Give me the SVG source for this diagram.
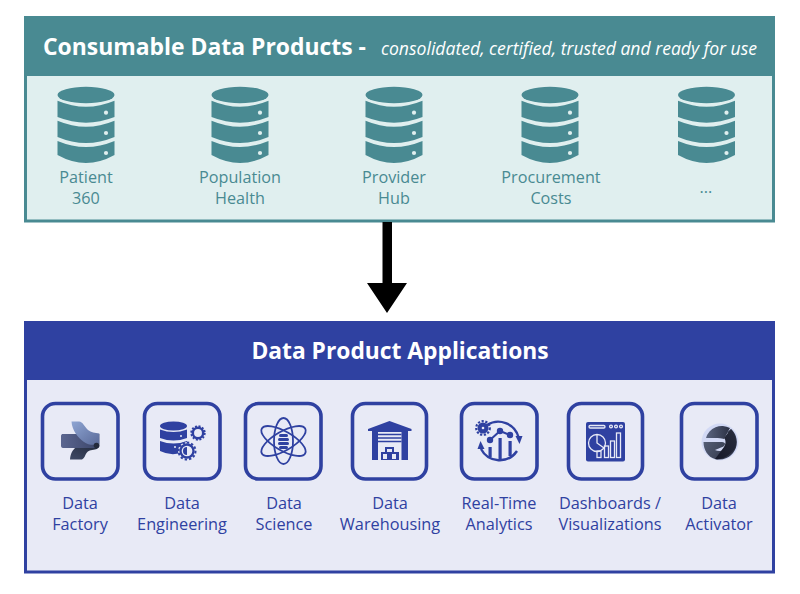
<svg xmlns="http://www.w3.org/2000/svg" width="800" height="594" viewBox="0 0 800 594">
<style>
text{font-family:"Open Sans","Noto Sans","Liberation Sans",sans-serif}
.t{fill:#498a92;font-size:16.200px;text-anchor:middle}
.b{fill:#2f41a1;font-size:16.300px;text-anchor:middle}
.box{fill:none;stroke:#2f41a1;stroke-width:3.6}
.f{fill:#2f41a1}
.s{fill:none;stroke:#2f41a1;stroke-width:1.800}
.w{fill:#e8eaf6}
.wl{fill:none;stroke:#e8eaf6;stroke-width:1.300}
</style>
<defs>
<g id="db">
<ellipse cx="0" cy="8" rx="28.500" ry="8.200" fill="#498a92"/>
<path d="M-28.500 13.700Q-14 19.700 0 19.700T28.500 13.700V30Q14 35.700 0 35.700T-28.500 30Z" fill="#498a92"/>
<path d="M-28.500 33.700Q-14 39.700 0 39.700T28.500 33.700V50Q14 56 0 56T-28.500 50Z" fill="#498a92"/>
<path d="M-28.500 54Q-14 60 0 60T28.500 54V68Q14 76 0 76T-28.500 68Z" fill="#498a92"/>
<circle cx="20" cy="25.700" r="2.100" fill="#e0efef"/>
<circle cx="20" cy="46" r="2.100" fill="#e0efef"/>
<circle cx="20" cy="66" r="2.100" fill="#e0efef"/>
</g>
<linearGradient id="g1" x1="0" y1="0" x2="1" y2="1"><stop offset="0" stop-color="#8ea5d3"/><stop offset="1" stop-color="#5a6a99"/></linearGradient>
<linearGradient id="g2" x1="0" y1="0" x2="1" y2="0"><stop offset="0" stop-color="#5b6690"/><stop offset="1" stop-color="#3a4468"/></linearGradient>
<linearGradient id="g3" x1="0" y1="1" x2="1" y2="0"><stop offset="0" stop-color="#3f4a66"/><stop offset="1" stop-color="#232a3c"/></linearGradient>
<linearGradient id="g4" x1="0" y1="0" x2="1" y2="0.600"><stop offset="0" stop-color="#5d677f"/><stop offset="1" stop-color="#30364a"/></linearGradient>
<linearGradient id="g5" x1="0" y1="0" x2="1" y2="0"><stop offset="0" stop-color="#5b6580"/><stop offset="1" stop-color="#2c3144"/></linearGradient>
<linearGradient id="g6" x1="1" y1="0" x2="0" y2="1"><stop offset="0" stop-color="#2a2e3e"/><stop offset="1" stop-color="#15182a"/></linearGradient>
</defs>

<g id="consumable-panel">
<rect x="25.500" y="17.500" width="748" height="203.500" fill="#e0efef" stroke="#498a92" stroke-width="3"/>
<rect x="24" y="16" width="751" height="60" fill="#498a92"/>
<text x="43" y="55" font-size="23.500" font-weight="700" fill="#fff" textLength="323" lengthAdjust="spacingAndGlyphs">Consumable Data Products -</text>
<text x="381" y="55" font-size="17.500" font-style="italic" fill="#fff" textLength="376" lengthAdjust="spacingAndGlyphs">consolidated, certified, trusted and ready for use</text>
</g>
<g id="patient-360"><use href="#db" x="86" y="87"/><text class="t" x="86" y="183">Patient</text><text class="t" x="86" y="204">360</text></g>
<g id="population-health"><use href="#db" x="240" y="87"/><text class="t" x="240" y="183">Population</text><text class="t" x="240" y="204">Health</text></g>
<g id="provider-hub"><use href="#db" x="394" y="87"/><text class="t" x="394" y="183">Provider</text><text class="t" x="394" y="204">Hub</text></g>
<g id="procurement-costs"><use href="#db" x="550" y="87"/><text class="t" x="551" y="183">Procurement</text><text class="t" x="551" y="204">Costs</text></g>
<g id="more-products"><use href="#db" x="706.500" y="87"/><text class="t" x="706" y="193">...</text></g>

<g id="connectors">
<path d="M382.500 222H392V283H407L387 313L367 283H382.500Z" fill="#000"/>
</g>

<g id="applications-panel">
<rect x="25.500" y="322.500" width="748" height="249.500" fill="#e8eaf6" stroke="#2f41a1" stroke-width="3"/>
<rect x="24" y="321" width="751" height="59" fill="#2f41a1"/>
<text x="400" y="359" font-size="22.800" font-weight="700" fill="#fff" text-anchor="middle">Data Product Applications</text>
</g>

<g id="data-factory">
<rect class="box" x="42.500" y="403.500" width="75.500" height="75.500" rx="13"/>
<path d="M63 434H99.300V446C99.300 448 97 448 95 448H63C61.500 448 61 447 61 445.500V436C61 434.500 62 434 63 434Z" fill="url(#g2)"/>
<path d="M71.500 421.500H79C83 422 84 426 88 430C91 432.500 95 433 99.300 433.500V444C94 445.500 88 445 84 442C78 438 72 430 71.500 421.500Z" fill="url(#g1)"/>
<path d="M70 459.500C70.500 454 72 451 75 448H94C96 448 99 447 99 445C99 447.500 98 449 95 449.500C91 450 88 450.500 86.500 453C85 455.500 84.500 458 82 459.500Z" fill="url(#g3)"/>
<circle cx="96.500" cy="445.500" r="2.800" fill="#232a3c"/>
</g>
<g id="data-engineering">
<rect class="box" x="144.500" y="403.500" width="75.500" height="75.500" rx="13"/>
<ellipse class="f" cx="173.500" cy="426" rx="13.500" ry="4.500"/>
<path class="f" d="M160 429.500Q173.500 434.500 187 429.500V438Q173.500 443 160 438Z"/>
<path class="f" d="M160 441Q173.500 446 187 441V446L181 453Q170 456 160 451Z"/>
<circle class="w" cx="181" cy="436" r="1"/><circle class="w" cx="175" cy="447" r="1"/>
<circle cx="198" cy="433" r="5.200" fill="none" stroke="#2f41a1" stroke-width="2.500"/>
<circle cx="198" cy="433" r="6.800" fill="none" stroke="#2f41a1" stroke-width="1.800" stroke-dasharray="2 1.600"/>
<circle cx="187" cy="451" r="9" class="w"/>
<circle cx="187" cy="451" r="6.500" fill="none" stroke="#2f41a1" stroke-width="2.300"/>
<circle cx="187" cy="451" r="8.500" fill="none" stroke="#2f41a1" stroke-width="2" stroke-dasharray="2.400 2"/>
<path class="f" d="M187 447A4 4 0 0 0 187 455Z"/>
</g>
<g id="data-science">
<rect class="box" x="245.500" y="403.500" width="75.500" height="75.500" rx="13"/>
<ellipse class="s" cx="283.500" cy="441" rx="9.500" ry="23"/>
<ellipse class="s" cx="283.500" cy="441" rx="9.500" ry="25" transform="rotate(60 283.500 441)"/>
<ellipse class="s" cx="283.500" cy="441" rx="9.500" ry="25" transform="rotate(-60 283.500 441)"/>
<rect class="f" x="279" y="434" width="9" height="3" rx="1.500"/>
<rect class="f" x="278" y="438" width="11" height="3" rx="1.500"/>
<rect class="f" x="278" y="442" width="11" height="3" rx="1.500"/>
<rect class="f" x="279" y="446" width="9" height="3" rx="1.500"/>
</g>
<g id="data-warehousing">
<rect class="box" x="352.500" y="403.500" width="74" height="75.500" rx="13"/>
<path class="f" d="M368 429L389.500 421L411.500 429V431H408V460H372V431H368Z"/>
<rect class="w" x="378" y="432" width="23.500" height="28"/>
<path d="M378 434.500H401.500M378 438H401.500M378 441.500H401.500" fill="none" stroke="#2f41a1" stroke-width="1.300"/>
<path class="f" d="M385 447H394V452H399V460H381V452H385Z"/>
<rect class="w" x="387" y="449" width="5" height="3"/><rect class="w" x="383" y="454" width="4" height="5"/><rect class="w" x="392" y="454" width="4" height="5"/>
</g>
<g id="real-time-analytics">
<rect class="box" x="461.500" y="403.500" width="75.500" height="75.500" rx="13"/>
<path d="M487 425A21 21 0 0 1 518.500 437M517 451A21 21 0 0 1 481 449" fill="none" stroke="#2f41a1" stroke-width="2.400"/>
<path class="f" d="M515.500 436L522.500 436L519.500 444ZM477.500 449L484.500 449L480.500 441Z"/>
<circle class="f" cx="483" cy="428" r="5.500"/>
<circle cx="483" cy="428" r="6.800" fill="none" stroke="#2f41a1" stroke-width="2.200" stroke-dasharray="2.200 1.600"/>
<circle class="w" cx="483" cy="428" r="1.300"/>
<path d="M490 440L500 431L510 435" fill="none" stroke="#2f41a1" stroke-width="2"/>
<circle class="f" cx="490" cy="440" r="3.200"/><circle class="f" cx="500" cy="431" r="3.200"/><circle class="f" cx="510" cy="435" r="3.200"/>
<rect class="f" x="488.500" y="447" width="3.200" height="10"/><rect class="f" x="498.500" y="438" width="3.200" height="21"/><rect class="f" x="508.500" y="441" width="3.200" height="15"/>
</g>
<g id="dashboards-visualizations">
<rect class="box" x="568.500" y="403.500" width="74" height="75.500" rx="13"/>
<rect class="f" x="586" y="422" width="39" height="39.500" rx="2"/>
<rect class="wl" x="589" y="425.500" width="16" height="2.500" rx="1.200"/>
<circle class="wl" cx="611" cy="426.500" r="1.400"/><circle class="wl" cx="616" cy="426.500" r="1.400"/><circle class="wl" cx="621" cy="426.500" r="1.400"/>
<circle class="wl" cx="597" cy="443" r="8.500"/>
<path class="wl" d="M597 434.500V443L604 448"/>
<rect class="wl" x="597" y="451" width="4" height="6.500"/><rect class="wl" x="604.500" y="446" width="4" height="11.500"/><rect class="wl" x="610.500" y="441" width="4" height="16.500"/><rect class="wl" x="616.500" y="433" width="4" height="24.500"/>
</g>
<g id="data-activator">
<rect class="box" x="681.500" y="403.500" width="75.500" height="75.500" rx="13"/>
<circle cx="720" cy="442" r="18.500" fill="#b9c6f5" opacity="0.450"/>
<path d="M706 438A16.500 16.500 0 0 1 730 428L724 439C722 438 716 438 706 438Z" fill="url(#g5)"/>
<path d="M703.500 442H722C724 442 725 443 725 444C725 445.500 723 447 721 447.500L715 450C719 452 725 451 728 447C731 443 729 435 727 432L731 429A17.500 17.500 0 0 1 715 459C708 457 703.500 450 703.500 442Z" fill="url(#g4)"/>
<path d="M731 429C738 437 738 448 731 453C727 457 721 460 715 459L724 447C726 444 726 440 724 438Z" fill="url(#g6)"/>
</g>

<text class="b" x="80" y="509">Data</text><text class="b" x="80" y="530">Factory</text>
<text class="b" x="182" y="509">Data</text><text class="b" x="182" y="530">Engineering</text>
<text class="b" x="284" y="509">Data</text><text class="b" x="284" y="530">Science</text>
<text class="b" x="390" y="509">Data</text><text class="b" x="390" y="530">Warehousing</text>
<text class="b" x="499" y="509">Real-Time</text><text class="b" x="499" y="530">Analytics</text>
<text class="b" x="610" y="509">Dashboards /</text><text class="b" x="610" y="530">Visualizations</text>
<text class="b" x="719" y="509">Data</text><text class="b" x="719" y="530">Activator</text>
</svg>
